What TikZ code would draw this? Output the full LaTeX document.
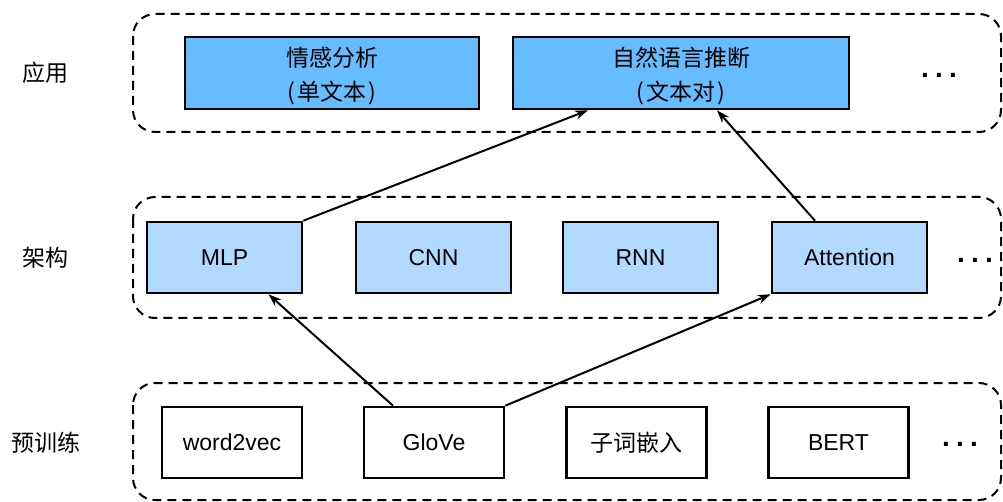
\documentclass[tikz,border=0pt]{standalone}
\usepackage{fontspec}
\setmainfont{Liberation Sans}
\newfontfamily\cjk{Noto Sans CJK SC}
\usetikzlibrary{arrows.meta}
\definecolor{appblue}{RGB}{102,188,255}
\definecolor{archblue}{RGB}{178,217,255}
\newcommand{\mydots}{.\hspace{6.2pt}.\hspace{6.2pt}.}
\newcommand{\tallline}[1]{\raisebox{0pt}[\dimexpr\height+6pt\relax]{#1}}
\begin{document}
\begin{tikzpicture}[x=1pt,y=-1pt,
  every node/.style={font=\fontsize{23}{34}\selectfont},
  group/.style={draw, line width=2pt, dash pattern=on 9pt off 6pt, rounded corners=22pt},
  box/.style={draw, line width=2.6pt, inner sep=0pt, align=center},
  appbox/.style={box, fill=appblue, minimum height=72pt},
  archbox/.style={box, fill=archblue, minimum width=155pt, minimum height=71pt},
  prebox/.style={box, fill=white, minimum width=140pt, minimum height=71pt},
  lab/.style={font=\fontsize{23}{34}\selectfont\cjk},
  dots/.style={inner sep=0pt, font=\fontsize{28}{34}\selectfont\bfseries},
  arr/.style={line width=2pt, -{Stealth[length=13pt,width=9pt]}}
]
\useasboundingbox (0,0) rectangle (1003,502);
% groups
\draw[group] (133,14) rectangle (1001,132);
\draw[group] (133,197) rectangle (1001,318);
\draw[group] (133,383) rectangle (1001,500);
% left labels
\node[lab] (lapp) at (45,73) {应用};
\node[lab] (larch) at (45,258) {架构};
\node[lab] (lpre) at (46,443) {预训练};
% application row
\node[appbox, minimum width=294pt] (sa) at (332,73) {\tallline{\cjk 情感分析}\\{\cjk (\hspace{2pt}单文本\hspace{2pt})}};
\node[appbox, minimum width=336pt] (nli) at (681,73) {\tallline{\cjk 自然语言推断}\\{\cjk (\hspace{2pt}文本对\hspace{2pt})}};
\node[dots] (d1) at (939,75) {\mydots};
% architecture row
\node[archbox] (mlp) at (224.5,257.5) {MLP};
\node[archbox] (cnn) at (433.5,257.5) {CNN};
\node[archbox] (rnn) at (640.5,257.5) {RNN};
\node[archbox] (att) at (849.5,257.5) {Attention};
\node[dots] (d2) at (975,260) {\mydots};
% pretraining row
\node[prebox] (w2v) at (232,442.5) {word2vec};
\node[prebox] (glove) at (434,442.5) {GloVe};
\node[prebox] (sub) at (636.5,442.5) {\cjk 子词嵌入};
\node[prebox] (bert) at (838.5,442.5) {BERT};
\node[dots] (d3) at (960,444) {\mydots};
% connectors
\draw[arr] (mlp.north east) -- ([xshift=-93pt]nli.south);
\draw[arr] ([xshift=-41pt]glove.north) -- ([xshift=44pt]mlp.south);
\draw[arr] (glove.north east) -- (att.south west);
\draw[arr] ([xshift=-34.5pt]att.north) -- ([xshift=36pt]nli.south);
\end{tikzpicture}
\end{document}
